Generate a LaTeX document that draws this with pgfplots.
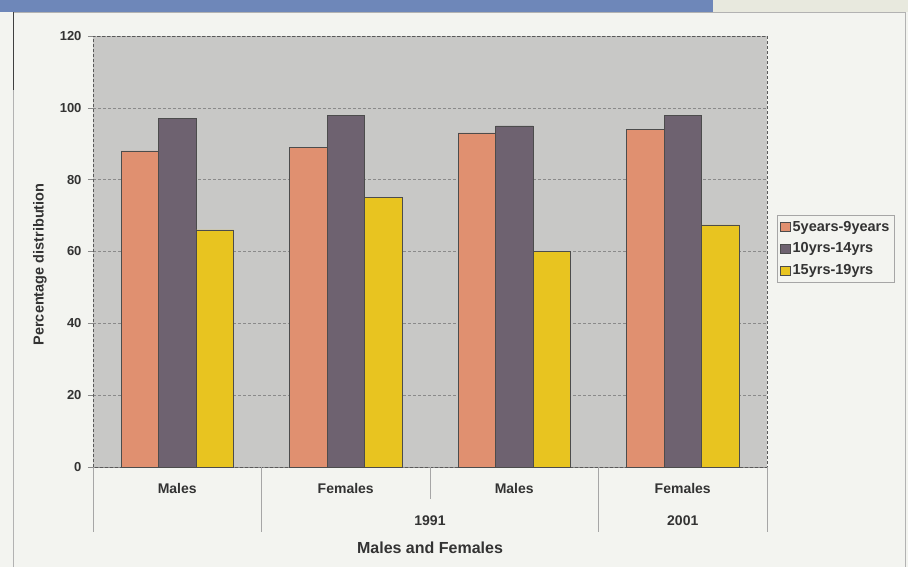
\documentclass[border=0pt]{standalone}
\usepackage{pgfplots}
\pgfplotsset{compat=1.18}
\usepackage{fontspec}
\setmainfont{Liberation Sans}
\definecolor{cOr}{HTML}{E09070}
\definecolor{cPu}{HTML}{6E6270}
\definecolor{cYe}{HTML}{E8C420}
\definecolor{cBg}{HTML}{C8C8C6}
\definecolor{paper}{HTML}{F3F4F0}
\definecolor{banner}{HTML}{6E87B9}
\definecolor{beige}{HTML}{E8E9DE}
\definecolor{gridc}{HTML}{8A8A8A}
\begin{document}
\begin{tikzpicture}
\fill[paper] (0pt,0pt) rectangle (908pt,-567pt);
\fill[banner] (0pt,0pt) rectangle (713pt,-12pt);
\fill[beige] (713pt,0pt) rectangle (908pt,-12pt);
\draw[gray!60, line width=0.8pt] (13pt,-567pt) -- (13pt,-12pt) -- (905pt,-12pt) -- (905pt,-567pt);
\draw[black!75, line width=1pt] (13pt,-12pt) -- (13pt,-90pt);
\begin{axis}[
  at={(93pt,-467pt)}, anchor=south west,
  scale only axis, width=674pt, height=431pt,
  ybar=0pt, bar width=37.5pt,
  xmin=-0.5, xmax=3.5, ymin=0, ymax=120,
  ytick={0,20,...,120},
  ytick pos=left,
  xtick={0,1,2,3},
  xticklabels={Males,Females,Males,Females},
  xtick style={draw=none},
  ytick style={draw=gridc, line width=0.6pt},
  tick align=outside, major tick length=5pt,
  ymajorgrids, grid style={densely dashed, gridc, line width=0.6pt},
  axis line style={densely dashed, gray!70!black, line width=0.6pt},
  axis background/.style={fill=cBg},
  /pgf/number format/assume math mode=true,
  ticklabel style={font=\bfseries\fontsize{13}{15}\selectfont, text=black!80},
  xticklabel style={font=\bfseries\fontsize{14}{16}\selectfont, yshift=-8pt},
  yticklabel style={xshift=-3pt},
  ylabel={Percentage distribution},
  ylabel style={at={(axis description cs:-0.0786,0.47)}, anchor=center, font=\bfseries\fontsize{14.5}{17}\selectfont, text=black!80},
  xlabel={Males and Females},
  xlabel style={at={(axis description cs:0.5,-0.188)}, anchor=center, font=\bfseries\fontsize{16}{19}\selectfont, text=black!80},
  clip=false,
  legend style={at={(axis description cs:1.0148,0.5847)}, anchor=north west,
    draw=gray!70, fill=paper, font=\bfseries\fontsize{14.5}{16}\selectfont, text=black!80,
    inner xsep=3pt, inner ysep=4pt, row sep=6pt,
    /tikz/every even column/.append style={column sep=2pt}},
  legend cell align=left,
  legend image code/.code={\draw[#1,draw=black!70,line width=0.5pt] (0pt,-4.5pt) rectangle (10pt,4.5pt);},
]
\addplot[fill=cOr, draw=black!70, line width=0.5pt] coordinates {(0,88) (1,89) (2,93) (3,94)};
\addplot[fill=cPu, draw=black!70, line width=0.5pt] coordinates {(0,97) (1,98) (2,95) (3,98)};
\addplot[fill=cYe, draw=black!70, line width=0.5pt] coordinates {(0,66) (1,75) (2,60) (3,67.4)};
\legend{5years-9years,10yrs-14yrs,15yrs-19yrs}
\pgfplotsinvokeforeach{-0.5,0.5,2.5,3.5}{
  \draw[gray!70, line width=0.6pt] (axis cs:#1,0) -- ++(0pt,-65pt);
}
\draw[gray!70, line width=0.6pt] (axis cs:1.5,0) -- ++(0pt,-32pt);
\node[font=\bfseries\fontsize{14}{16}\selectfont, text=black!80] at ([yshift=-54pt]axis cs:1.5,0) {1991};
\node[font=\bfseries\fontsize{14}{16}\selectfont, text=black!80] at ([yshift=-54pt]axis cs:3,0) {2001};
\end{axis}
\end{tikzpicture}
\end{document}
